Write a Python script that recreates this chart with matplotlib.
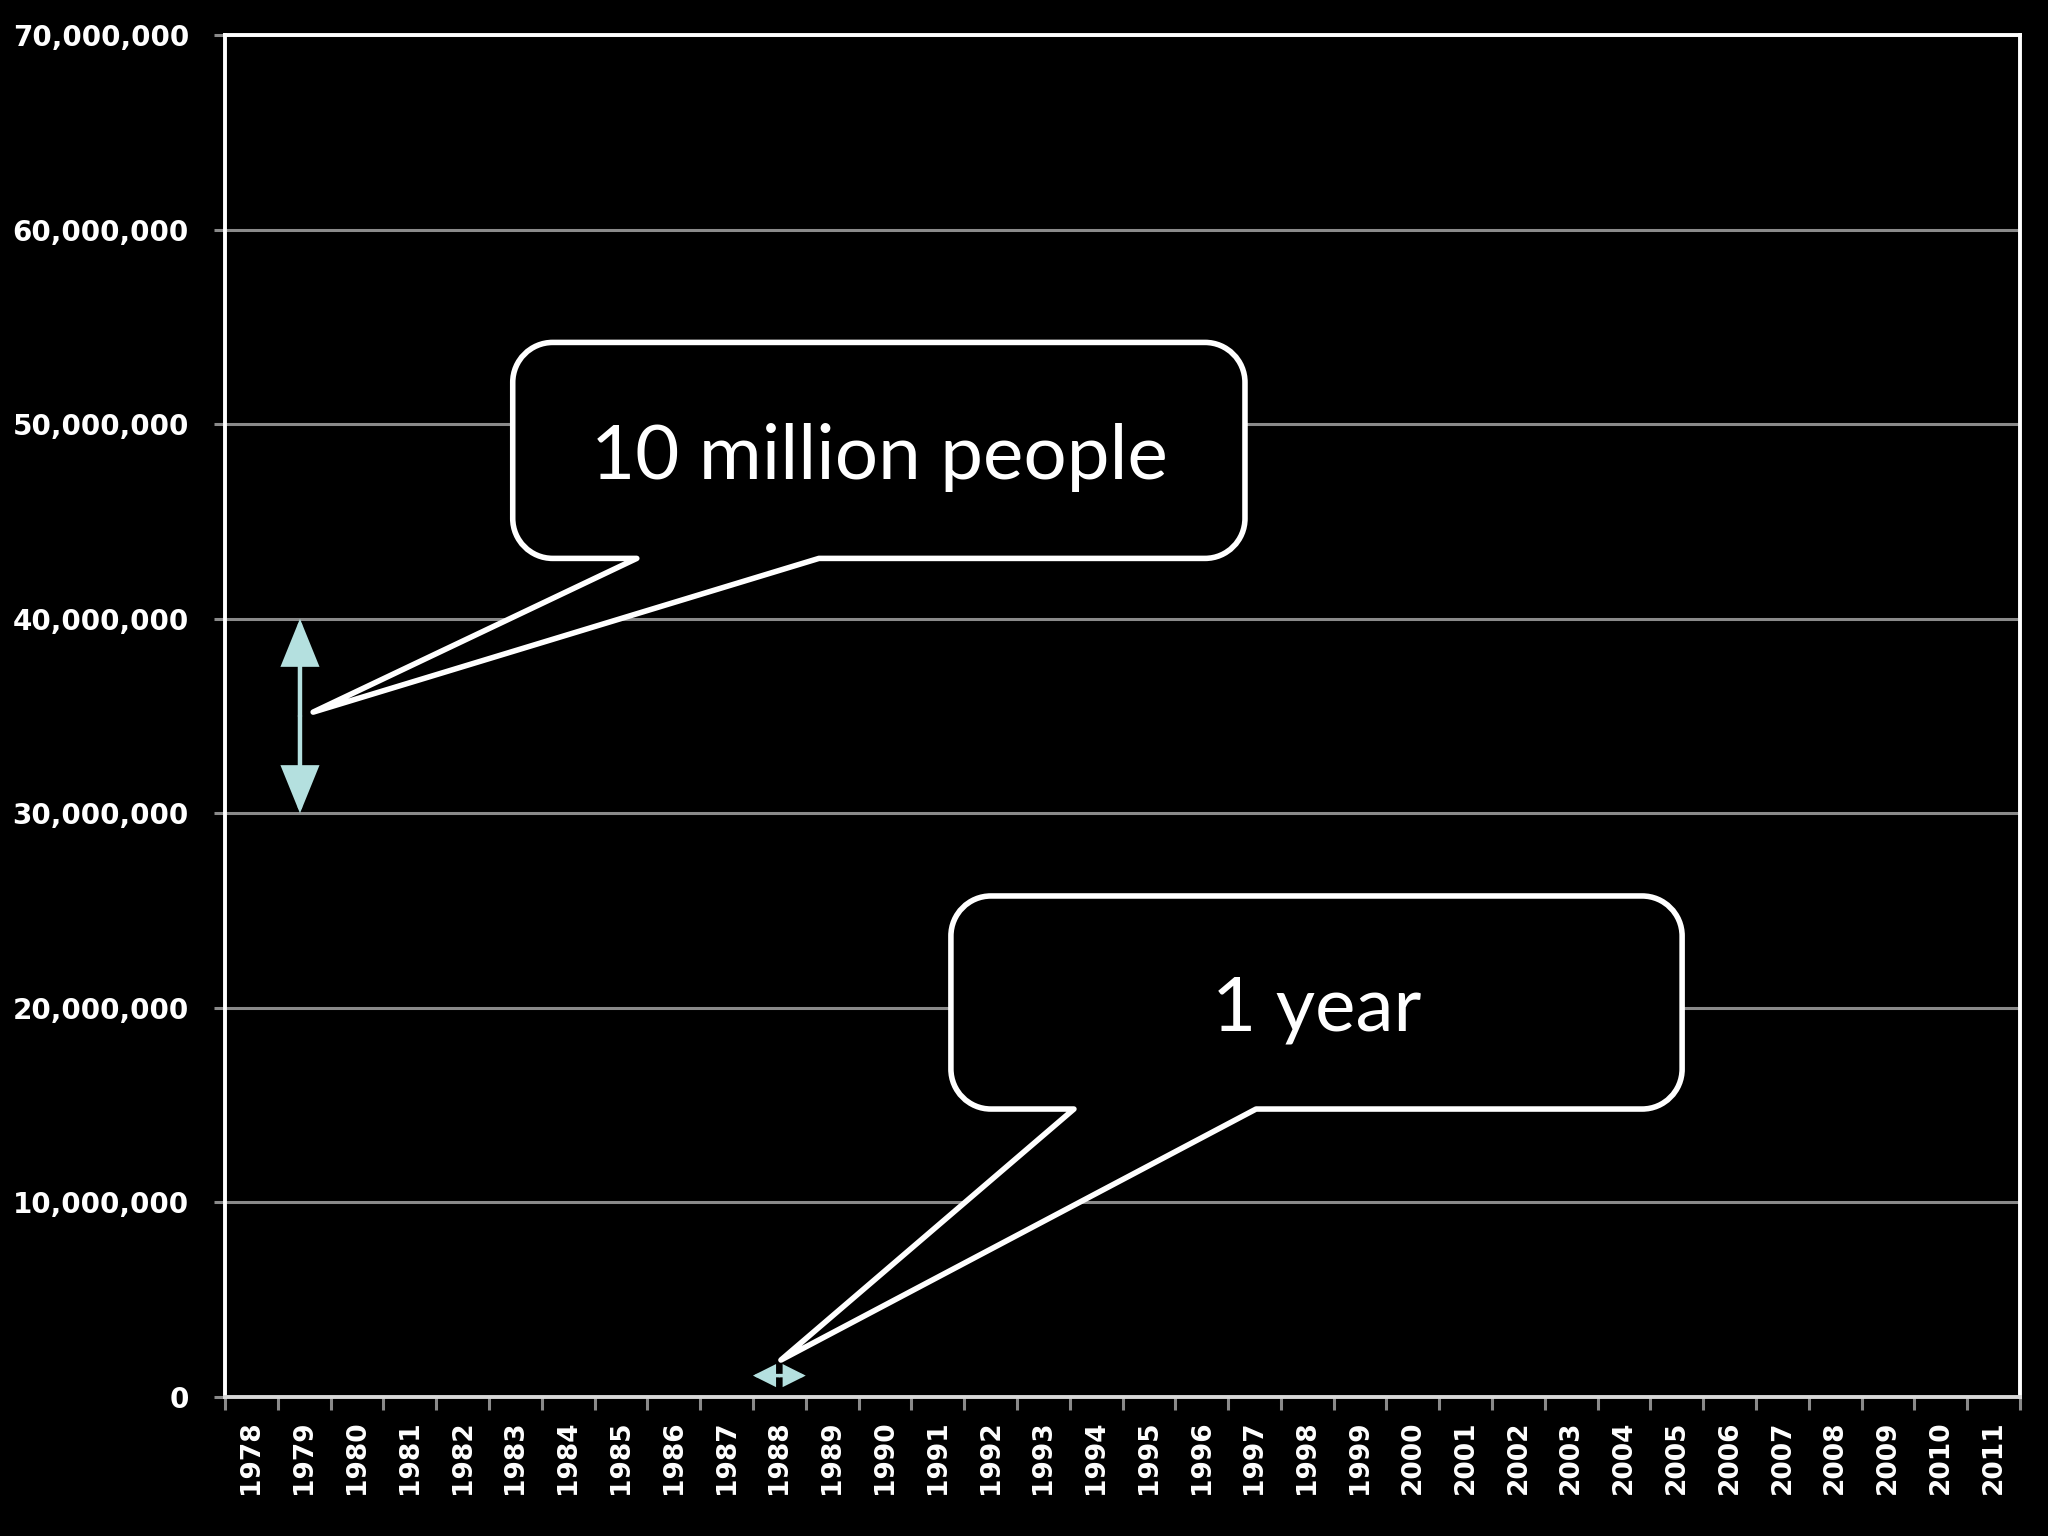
import numpy as np
import matplotlib
matplotlib.use('Agg')
import matplotlib.pyplot as plt
from matplotlib.path import Path
from matplotlib.patches import PathPatch, FancyArrowPatch
from matplotlib.ticker import FuncFormatter

# --- datos ---
years = list(range(1978, 2012))
y_ticks = [0, 10_000_000, 20_000_000, 30_000_000, 40_000_000, 50_000_000, 60_000_000, 70_000_000]

# escala de referencia (flechas celestes)
people_arrow_year = 1979
people_arrow_from = 30_000_000
people_arrow_to = 40_000_000
year_arrow_year = 1988
year_arrow_level = 1_100_000

# globos de texto (posiciones en indice de año / valor)
bubble_people = dict(text="10 million people", left=4.95, right=18.82, top=54.2e6, bottom=43.1e6,
                     tail_a=7.30, tail_b=10.75, tip=(1.17, 35.2e6), center=(11.89, 48.3e6))
bubble_year = dict(text="1 year", left=13.25, right=27.10, top=25.75e6, bottom=14.8e6,
                   tail_a=15.58, tail_b=19.03, tip=(10.03, 1.9e6), center=(20.18, 19.9e6))

BG = 'black'
GRID = '#8a8a8a'
ARROW = '#b4e0df'

fig = plt.figure(figsize=(20.48, 15.36), dpi=100, facecolor=BG)
ax = fig.add_axes([225 / 2048, 1 - 1397 / 1536, (2020 - 225) / 2048, (1397 - 35) / 1536])
ax.set_facecolor(BG)

n = len(years)
ax.set_xlim(-0.5, n - 0.5)
ax.set_ylim(0, 70_000_000)

# eje Y
ax.set_yticks(y_ticks)
ax.yaxis.set_major_formatter(FuncFormatter(lambda v, p: f"{int(v):,}"))
ax.tick_params(axis='y', colors=GRID, length=8, width=2.2, pad=18, labelcolor='white', labelsize=20)
for lab in ax.get_yticklabels():
    lab.set_fontweight('bold')
ax.grid(axis='y', color=GRID, linewidth=2.2)
ax.set_axisbelow(True)

# eje X: marcas en los limites, etiquetas en el centro
ax.set_xticks(np.arange(-0.5, n, 1.0))
ax.set_xticks(np.arange(n), minor=True)
ax.set_xticklabels([])
ax.set_xticklabels([str(y) for y in years], minor=True, rotation=90, fontsize=19,
                   fontweight='bold', color='white')
ax.tick_params(axis='x', which='major', colors=GRID, length=9, width=2.2)
ax.tick_params(axis='x', which='minor', length=0, pad=17)

for side in ['left', 'top', 'right']:
    ax.spines[side].set_color('white')
    ax.spines[side].set_linewidth(2.8)
ax.spines['bottom'].set_color('#d8d8d8')
ax.spines['bottom'].set_linewidth(2.8)


def flecha_doble(p0, p1, hl, hw, ms, lw):
    # dos flechas simples desde el centro hacia cada extremo
    mid = ((p0[0] + p1[0]) / 2, (p0[1] + p1[1]) / 2)
    for end in (p0, p1):
        ax.add_patch(FancyArrowPatch(mid, end,
                                     arrowstyle=f'-|>,head_length={hl},head_width={hw}',
                                     mutation_scale=ms, color=ARROW, linewidth=lw,
                                     shrinkA=0, shrinkB=0, joinstyle='miter'))


xi = years.index(people_arrow_year) - 0.08
flecha_doble((xi, people_arrow_from), (xi, people_arrow_to), 1.6, 0.65, 18, 3.2)
xj = years.index(year_arrow_year)
flecha_doble((xj - 0.5, year_arrow_level), (xj + 0.5, year_arrow_level), 0.9, 0.45, 14, 2.5)


def dibujar_globo(b, r=40):
    # se construye en pixeles para que las esquinas queden redondas
    to_px = ax.transData.transform
    x0, y1 = to_px((b['left'], b['top']))
    x1, y0 = to_px((b['right'], b['bottom']))
    ta, _ = to_px((b['tail_a'], b['bottom']))
    tb, _ = to_px((b['tail_b'], b['bottom']))
    tx, ty = to_px(b['tip'])
    k = 0.5523 * r
    verts = [
        (ta, y0), (tx, ty), (tb, y0),
        (x1 - r, y0), (x1 - r + k, y0), (x1, y0 + r - k), (x1, y0 + r),
        (x1, y1 - r), (x1, y1 - r + k), (x1 - r + k, y1), (x1 - r, y1),
        (x0 + r, y1), (x0 + r - k, y1), (x0, y1 - r + k), (x0, y1 - r),
        (x0, y0 + r), (x0, y0 + r - k), (x0 + r - k, y0), (x0 + r, y0),
        (ta, y0),
    ]
    codes = [Path.MOVETO, Path.LINETO, Path.LINETO,
             Path.LINETO, Path.CURVE4, Path.CURVE4, Path.CURVE4,
             Path.LINETO, Path.CURVE4, Path.CURVE4, Path.CURVE4,
             Path.LINETO, Path.CURVE4, Path.CURVE4, Path.CURVE4,
             Path.LINETO, Path.CURVE4, Path.CURVE4, Path.CURVE4,
             Path.CLOSEPOLY]
    patch = PathPatch(Path(verts, codes), facecolor=BG, edgecolor='white',
                      linewidth=4.0, joinstyle='round', transform=None, zorder=5)
    fig.add_artist(patch)
    fig.text(b['center'][0], b['center'][1], b['text'], transform=ax.transData,
             ha='center', va='center', color='white', fontsize=55, family='Lato', zorder=6)


dibujar_globo(bubble_people)
dibujar_globo(bubble_year)

fig.savefig('out.png', dpi=100, facecolor=BG)
